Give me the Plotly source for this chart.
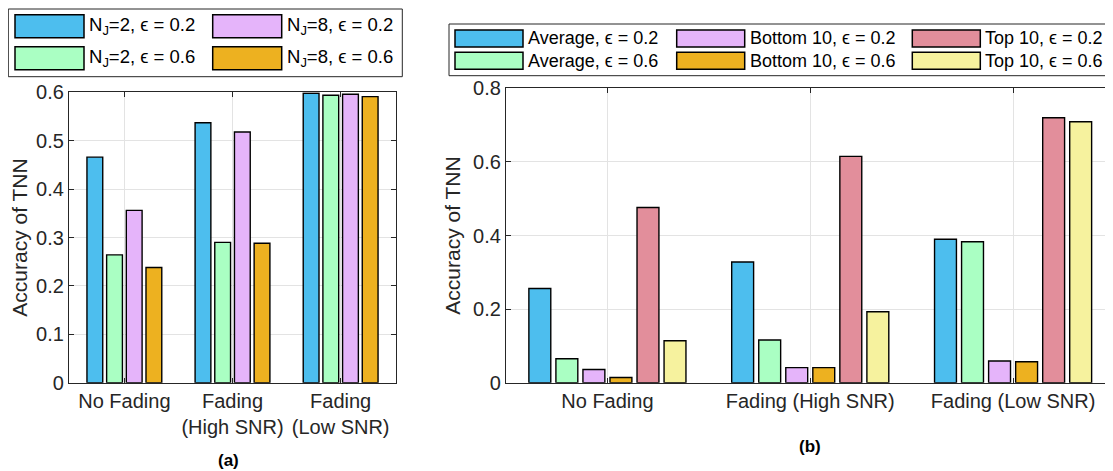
import plotly.graph_objects as go

# ---------------- data ----------------
x_pos = [1, 2, 3]
ticktext_a = ["No Fading", "Fading<br>(High SNR)", "Fading<br>(Low SNR)"]
ticktext_b = ["No Fading", "Fading (High SNR)", "Fading (Low SNR)"]

# panel (a)
nj2_e02 = [0.466, 0.537, 0.598]
nj2_e06 = [0.264, 0.290, 0.594]
nj8_e02 = [0.356, 0.518, 0.596]
nj8_e06 = [0.238, 0.288, 0.591]
names_a = ["N<sub>J</sub>=2, ϵ = 0.2", "N<sub>J</sub>=2, ϵ = 0.6",
           "N<sub>J</sub>=8, ϵ = 0.2", "N<sub>J</sub>=8, ϵ = 0.6"]

# panel (b)
avg_e02 = [0.256, 0.328, 0.390]
avg_e06 = [0.065, 0.116, 0.383]
bot_e02 = [0.036, 0.041, 0.059]
bot_e06 = [0.014, 0.041, 0.057]
top_e02 = [0.476, 0.615, 0.720]
top_e06 = [0.114, 0.193, 0.709]
names_b = ["Average, ϵ = 0.2", "Average, ϵ = 0.6",
           "Bottom 10, ϵ = 0.2", "Bottom 10, ϵ = 0.6",
           "Top 10, ϵ = 0.2", "Top 10, ϵ = 0.6"]

yticks_a = [0, 0.1, 0.2, 0.3, 0.4, 0.5, 0.6]
yticks_b = [0, 0.2, 0.4, 0.6, 0.8]

# ---------------- styles ----------------
C_BLUE = "#4DBEEE"
C_GREEN = "#AAFFC3"
C_PURPLE = "#E5B4FA"
C_ORANGE = "#EDB120"
C_PINK = "#E28E9B"
C_YELLOW = "#F6F29E"
colors_a = [C_BLUE, C_GREEN, C_PURPLE, C_ORANGE]
colors_b = [C_BLUE, C_GREEN, C_PURPLE, C_ORANGE, C_PINK, C_YELLOW]

W, H = 1113, 471
OFF = 8  # default page body margin
FONT = "Liberation Sans, Arial, Helvetica, sans-serif"
AX = "#262626"


def px(x):
    return (x - OFF) / W


def py(y):
    return 1 - (y - OFF) / H


fig = go.Figure()

# panel (a): 4 bars per group, MATLAB-like grouping
series_a = [nj2_e02, nj2_e06, nj8_e02, nj8_e06]
slot_a = 0.182
width_a = 0.146
for i, (vals, col, nm) in enumerate(zip(series_a, colors_a, names_a)):
    off = (i - 1.5) * slot_a - width_a / 2
    fig.add_trace(go.Bar(x=x_pos, y=vals, width=width_a, offset=off,
                         marker=dict(color=col, line=dict(color="black", width=1.4)),
                         name=nm, showlegend=False, xaxis="x", yaxis="y"))

# panel (b): 6 bars per group
series_b = [avg_e02, avg_e06, bot_e02, bot_e06, top_e02, top_e06]
slot_b = 0.1333
width_b = 0.108
for i, (vals, col, nm) in enumerate(zip(series_b, colors_b, names_b)):
    off = (i - 2.5) * slot_b - width_b / 2
    fig.add_trace(go.Bar(x=x_pos, y=vals, width=width_b, offset=off,
                         marker=dict(color=col, line=dict(color="black", width=1.4)),
                         name=nm, showlegend=False, xaxis="x2", yaxis="y2"))

axis_common = dict(
    showline=True, linecolor=AX, linewidth=1.3, mirror="ticks",
    ticks="inside", ticklen=5, tickcolor=AX, tickwidth=1,
    showgrid=True, gridcolor="#E3E3E3", gridwidth=1,
    zeroline=False, automargin=False,
    tickfont=dict(family=FONT, size=20, color=AX),
)

fig.update_layout(
    width=W, height=H,
    margin=dict(l=0, r=0, t=0, b=0, pad=0, autoexpand=False),
    paper_bgcolor="white", plot_bgcolor="white",
    barmode="overlay",
    font=dict(family=FONT, color=AX),
    xaxis=dict(domain=[px(69), px(396)], range=[0.488, 3.512],
               tickmode="array", tickvals=x_pos, ticktext=ticktext_a,
               anchor="y", **axis_common),
    yaxis=dict(domain=[py(382.7), py(92.3)], range=[0, 0.6],
               tickmode="array", tickvals=yticks_a,
               ticktext=[f"{v:g}" for v in yticks_a],
               anchor="x",
               title=dict(text="Accuracy of TNN", standoff=6,
                          font=dict(family=FONT, size=21, color=AX)),
               **axis_common),
    xaxis2=dict(domain=[px(506), px(1114.5)], range=[0.5, 3.5],
                tickmode="array", tickvals=x_pos, ticktext=ticktext_b,
                anchor="y2", **axis_common),
    yaxis2=dict(domain=[py(382.7), py(88.3)], range=[0, 0.8],
                tickmode="array", tickvals=yticks_b,
                ticktext=[f"{v:g}" for v in yticks_b],
                anchor="x2",
                title=dict(text="Accuracy of TNN", standoff=6,
                           font=dict(family=FONT, size=21, color=AX)),
                **axis_common),
)

# panel captions
fig.add_annotation(x=px(228), y=py(460), xref="paper", yref="paper",
                   xanchor="center", yanchor="middle",
                   text="<b>(a)</b>", showarrow=False,
                   font=dict(family=FONT, size=17, color="black"))
fig.add_annotation(x=px(810), y=py(446), xref="paper", yref="paper",
                   xanchor="center", yanchor="middle",
                   text="<b>(b)</b>", showarrow=False,
                   font=dict(family=FONT, size=17, color="black"))


# ---------------- legends (MATLAB-style boxes) ----------------
def add_legend(box, sw_x, sw_y, sw_w, sw_h, names, colors, fsize):
    x0, y0, x1, y1 = box
    fig.add_shape(type="rect", xref="paper", yref="paper",
                  x0=px(x0), x1=px(x1), y0=py(y1), y1=py(y0),
                  line=dict(color=AX, width=1), fillcolor="white", layer="above")
    for i, (nm, col) in enumerate(zip(names, colors)):
        c, r = i // 2, i % 2
        sx, sy = sw_x[c], sw_y[r]
        fig.add_shape(type="rect", xref="paper", yref="paper",
                      x0=px(sx), x1=px(sx + sw_w), y0=py(sy + sw_h), y1=py(sy),
                      line=dict(color="black", width=1.5), fillcolor=col, layer="above")
        fig.add_annotation(x=px(sx + sw_w + 3), y=py(sy + sw_h / 2),
                           xref="paper", yref="paper", xanchor="left", yanchor="middle",
                           text=nm, showarrow=False,
                           font=dict(family=FONT, size=fsize, color="black"))


add_legend((8.3, 9, 402.3, 76.7), [15, 212.7], [14.7, 46.7], 69, 23,
           names_a, colors_a, 18.5)
add_legend((449, 24, 1118, 75.7), [455, 676.7, 912.3], [30, 52.3], 68, 17,
           names_b, colors_b, 18)

fig.write_html("out.html")
